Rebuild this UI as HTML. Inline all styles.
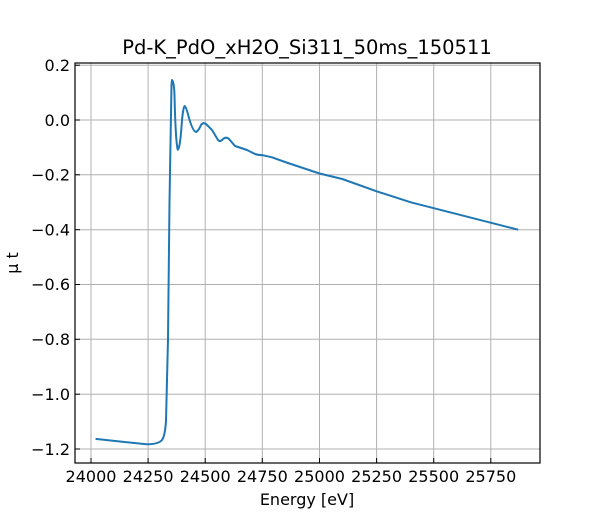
<!DOCTYPE html>
<html><head><style>body{margin:0;background:#fff}</style></head><body>
<svg width="600" height="520" xmlns="http://www.w3.org/2000/svg" font-family="DejaVu Sans, Liberation Sans, sans-serif">
<rect width="600" height="520" fill="#fff"/>
<g stroke="#b0b0b0" stroke-width="1">
<line x1="91" y1="63" x2="91" y2="463"/><line x1="148.1" y1="63" x2="148.1" y2="463"/><line x1="205.2" y1="63" x2="205.2" y2="463"/><line x1="262.3" y1="63" x2="262.3" y2="463"/><line x1="319.5" y1="63" x2="319.5" y2="463"/><line x1="376.6" y1="63" x2="376.6" y2="463"/><line x1="433.7" y1="63" x2="433.7" y2="463"/><line x1="490.8" y1="63" x2="490.8" y2="463"/>
<line x1="75" y1="65.2" x2="540" y2="65.2"/><line x1="75" y1="120" x2="540" y2="120"/><line x1="75" y1="174.8" x2="540" y2="174.8"/><line x1="75" y1="229.7" x2="540" y2="229.7"/><line x1="75" y1="284.5" x2="540" y2="284.5"/><line x1="75" y1="339.3" x2="540" y2="339.3"/><line x1="75" y1="394.2" x2="540" y2="394.2"/><line x1="75" y1="449" x2="540" y2="449"/>
</g>
<path fill="none" stroke="#1f77b4" stroke-width="2" stroke-linejoin="round" d="M95.6,438.9 L132,442.8 L146.4,444.2 Q158,444.5 162,440 Q165,436 166,421 L168,339 L169.5,202 L171.5,85 L172,80 Q174,82 174.5,95 Q175.5,140 177.7,149.7 Q180,150 182,120 Q183.5,106 184.7,106 Q186,106 189,118 Q193,132 196.3,132 Q199,130 201,125 Q203,122 206,124 L212,130 L218,140 Q220,142 222,140 Q226,136 229,139 L235,146 L247,150 L255,154 Q258,155 263,155.3 L272,157.3 L285,162 L319.5,173.5 L342.3,179 L376.6,191.3 L410.8,202.3 L518.2,229.7"/>
<rect x="75" y="63" width="465" height="400" fill="none" stroke="#000" stroke-width="1.2"/>
<g stroke="#000" stroke-width="1">
<line x1="91" y1="463" x2="91" y2="458"/><line x1="148.1" y1="463" x2="148.1" y2="458"/><line x1="205.2" y1="463" x2="205.2" y2="458"/><line x1="262.3" y1="463" x2="262.3" y2="458"/><line x1="319.5" y1="463" x2="319.5" y2="458"/><line x1="376.6" y1="463" x2="376.6" y2="458"/><line x1="433.7" y1="463" x2="433.7" y2="458"/><line x1="490.8" y1="463" x2="490.8" y2="458"/>
<line x1="75" y1="65.2" x2="80" y2="65.2"/><line x1="75" y1="120" x2="80" y2="120"/><line x1="75" y1="174.8" x2="80" y2="174.8"/><line x1="75" y1="229.7" x2="80" y2="229.7"/><line x1="75" y1="284.5" x2="80" y2="284.5"/><line x1="75" y1="339.3" x2="80" y2="339.3"/><line x1="75" y1="394.2" x2="80" y2="394.2"/><line x1="75" y1="449" x2="80" y2="449"/>
</g>
<g font-size="16" text-anchor="middle" fill="#000">
<text x="91" y="482">24000</text><text x="148.1" y="482">24250</text><text x="205.2" y="482">24500</text><text x="262.3" y="482">24750</text><text x="319.5" y="482">25000</text><text x="376.6" y="482">25250</text><text x="433.7" y="482">25500</text><text x="490.8" y="482">25750</text>
<text x="307" y="505">Energy [eV]</text>
<text x="307" y="54" font-size="19.5">Pd-K_PdO_xH2O_Si311_50ms_150511</text>
</g>
<g font-size="16" text-anchor="end" fill="#000">
<text x="70" y="71">0.2</text><text x="70" y="126">0.0</text><text x="70" y="180.5">−0.2</text><text x="70" y="235.5">−0.4</text><text x="70" y="290">−0.6</text><text x="70" y="345">−0.8</text><text x="70" y="400">−1.0</text><text x="70" y="455">−1.2</text>
</g>
<text transform="translate(18,263) rotate(-90)" font-size="16" text-anchor="middle">μ t</text>
</svg>
</body></html>
